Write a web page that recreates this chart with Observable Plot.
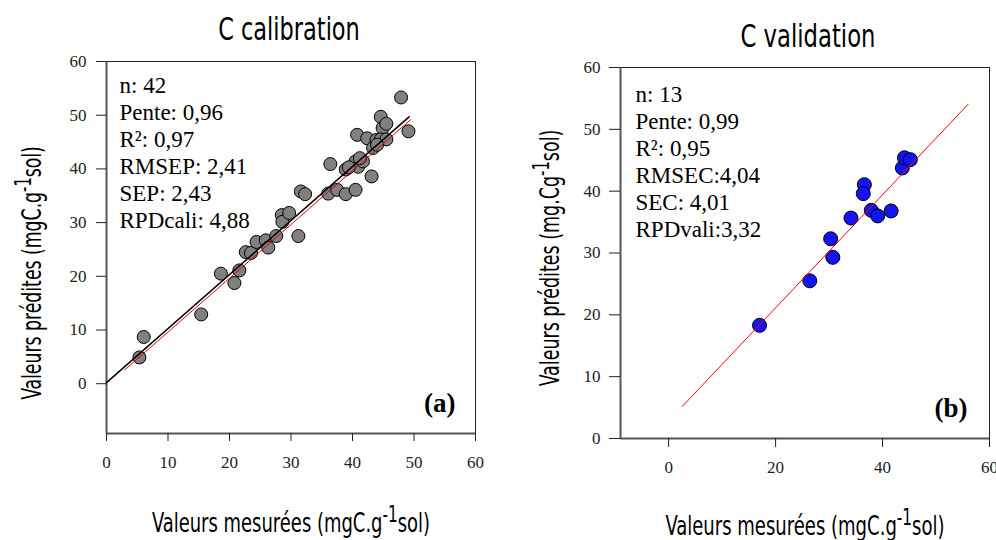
<!DOCTYPE html>
<html><head><meta charset="utf-8">
<script src="https://cdn.jsdelivr.net/npm/d3@7"></script>
<script src="https://cdn.jsdelivr.net/npm/@observablehq/plot@0.6"></script>
<style>
html,body{margin:0;padding:0;background:#fff;}
#wrap{position:relative;width:996px;height:540px;overflow:hidden;background:#fff;}
.t{position:absolute;white-space:nowrap;font-family:"DejaVu Sans Condensed","DejaVu Sans",sans-serif;line-height:1;color:#000;}
.t sup{font-size:0.85em;vertical-align:0.42em;line-height:0;}
.p{position:absolute;top:0;}
</style></head><body><div id="wrap"></div>
<script>
// ---- data ----
const calX = [5.35,6.05,15.4,18.6,20.8,21.6,22.65,23.5,24.4,25.9,26.3,27.6,28.5,28.6,29.7,31.2,31.6,32.3,36.05,36.4,37.5,38.9,38.9,40.5,40.75,40.5,40.9,41.7,42.4,43.1,43.35,43.9,44.6,44.9,45.5,44.6,45.5,47.9,49.1,39.4,41.2,44.0];
const calY = [4.9,8.7,12.9,20.5,18.75,21.1,24.5,24.35,26.4,26.7,25.35,27.5,31.4,30.15,31.8,27.5,35.8,35.3,35.4,40.9,36.1,35.3,39.9,36.1,46.35,41.4,40.4,41.4,45.7,38.6,43.9,45.4,49.7,47.6,48.4,45.5,45.5,53.3,47.0,40.3,42.0,44.5];
const calFitX = [0, 49.2], calFitY = [0.2, 49.7];     // black regression line
const calRefX = [3, 49.5], calRefY = [2.6, 49.2];     // red line
const valX = [17.0,26.4,30.3,30.7,34.1,36.6,36.4,37.9,39.1,41.6,43.7,44.1,45.2];
const valY = [18.3,25.5,32.3,29.3,35.65,41.05,39.6,36.9,36.0,36.8,43.75,45.4,45.1];
const valFitX = [2.55, 56.0], valFitY = [5.18, 54.05]; // red line
const calTicksX = [0,10,20,30,40,50,60], calTicksY = [0,10,20,30,40,50,60];
const valTicksX = [0,20,40,60], valTicksY = [0,10,20,30,40,50,60];
const calStats = ["n: 42","Pente: 0,96","R²: 0,97","RMSEP: 2,41","SEP: 2,43","RPDcali: 4,88"];
const valStats = ["n: 13","Pente: 0,99","R²: 0,95","RMSEC:4,04","SEC: 4,01","RPDvali:3,32"];
const titles = ["C calibration","C validation"];
const tags = ["(a)","(b)"];

const wrap = document.getElementById("wrap");
const serif = "'Liberation Serif','Times New Roman',serif";

function panel(o){
  const pts = o.X.map((x,i)=>({x, y:o.Y[i]}));
  const lines = o.lines.map(l => ({pts: l.X.map((x,i)=>({x, y:l.Y[i]})), stroke:l.stroke, w:l.w}));
  const chart = Plot.plot({
    width:o.width, height:o.height,
    marginLeft:o.mL, marginRight:o.mR, marginTop:o.mT, marginBottom:o.mB,
    style:{fontFamily:serif, fontSize:"17px", color:"#222", background:"transparent", overflow:"visible"},
    x:{domain:o.xDomain},
    y:{domain:o.yDomain},
    marks:[
      Plot.frame({stroke:"#222", strokeWidth:1}),
      Plot.ruleX([o.xDomain[0]], {stroke:"#555", strokeWidth:2}),
      Plot.ruleY([o.yDomain[0]], {stroke:"#555", strokeWidth:2}),
      Plot.axisX({ticks:o.xTicks, tickSize:o.xTS, tickPadding:o.xTP, label:null, tickFormat:d=>String(d), fontSize:17, fontFamily:serif}),
      Plot.axisY({ticks:o.yTicks, tickSize:o.yTS, tickPadding:o.yTP, label:null, tickFormat:d=>String(d), fontSize:17, fontFamily:serif}),
      Plot.dot(pts, {x:"x", y:"y", r:o.r, fill:o.fill, stroke:"#000", strokeWidth:1}),
      ...lines.map(l => Plot.line(l.pts, {x:"x", y:"y", stroke:l.stroke, strokeWidth:l.w})),
      Plot.text([o.stats.join("\n")], {frameAnchor:"top-left", lineAnchor:"top", textAnchor:"start", dx:o.sdx, dy:o.sdy, fontSize:23, fontFamily:serif, lineHeight:1.18, fill:"#000"}),
      Plot.text([o.tag], {frameAnchor:"bottom-right", lineAnchor:"middle", textAnchor:"end", dx:o.tdx, dy:o.tdy, fontSize:27, fontWeight:"bold", fontFamily:serif, fill:"#000"})
    ]
  });
  chart.classList.add("p");
  chart.style.left = o.left + "px";
  wrap.appendChild(chart);
}

panel({X:calX, Y:calY, fill:"#808080", r:6.5,
  lines:[{X:calFitX, Y:calFitY, stroke:"#000", w:1.5},{X:calRefX, Y:calRefY, stroke:"#e00000", w:1}],
  stats:calStats, tag:tags[0], xDomain:[0,60], yDomain:[-9.27,60], xTicks:calTicksX, yTicks:calTicksY,
  width:500, height:470, left:0, mL:106, mR:25, mT:61, mB:37,
  xTS:8, xTP:14, yTS:10, yTP:10, sdx:13, sdy:12, tdx:-20, tdy:-30});

panel({X:valX, Y:valY, fill:"#1414f0", r:7,
  lines:[{X:valFitX, Y:valFitY, stroke:"#ff0000", w:1}],
  stats:valStats, tag:tags[1], xDomain:[-9,60], yDomain:[0,60], xTicks:valTicksX, yTicks:valTicksY,
  width:496, height:490, left:500, mL:120, mR:7, mT:67, mB:52,
  xTS:9, xTP:13, yTS:11, yTP:9, sdx:15, sdy:15, tdx:-22, tdy:-30});

// ---- titles and axis titles ----
function label(html, cx, cy, size, targetW, rot){
  const d = document.createElement("div");
  d.className = "t";
  d.style.fontSize = size + "px";
  d.innerHTML = html;
  d.style.left = cx + "px";
  d.style.top = cy + "px";
  wrap.appendChild(d);
  const s = targetW / d.offsetWidth;
  d.style.transform = `translate(-50%,-50%) ${rot ? "rotate(-90deg)" : ""} scaleX(${s})`;
}
const xTitle = "Valeurs mesurées (mgC.g<sup>-1</sup>sol)";
label(titles[0], 289, 29, 32, 142, false);
label(titles[1], 808, 36, 32, 135, false);
label(xTitle, 291, 521.7, 27, 278, false);
label(xTitle, 805, 524.7, 27, 279, false);
label("Valeurs prédites (mgC.g<sup>-1</sup>sol)", 30.7, 273, 27, 254, true);
label("Valeurs prédites (mg.Cg<sup>-1</sup>sol)", 548.7, 258, 27, 257, true);
</script>
</body></html>
